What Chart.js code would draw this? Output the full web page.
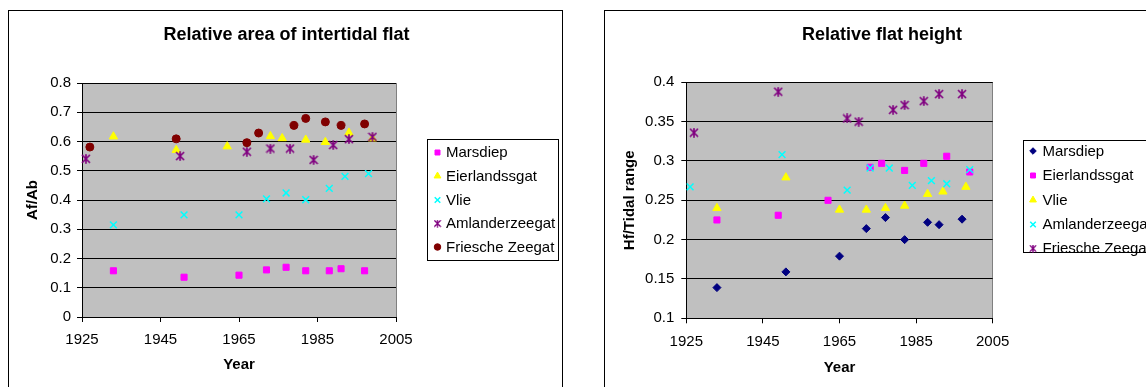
<!DOCTYPE html>
<html>
<head>
<meta charset="utf-8">
<script src="https://cdn.jsdelivr.net/npm/chart.js@4/dist/chart.umd.min.js"></script>
<style>
  html, body { margin: 0; padding: 0; background: #fff; width: 1146px; height: 387px; overflow: hidden; }
  .panel { position: absolute; border: 1px solid #000; box-sizing: border-box; }
  .holder { position: absolute; top: 0; width: 573px; height: 387px; }
  canvas { position: absolute; left: 0; top: 0; }
</style>
</head>
<body>
<div class="panel" style="left:8px; top:10px; width:555px; height:420px;"></div>
<div class="panel" style="left:604px; top:10px; width:620px; height:420px;"></div>
<div class="holder" style="left:0;"><canvas id="areaChart" width="573" height="387"></canvas></div>
<div class="holder" style="left:573px;"><canvas id="heightChart" width="573" height="387"></canvas></div>

<script>
// ---- Tick values ----
const yearTicks = [1925, 1945, 1965, 1985, 2005];
const areaTicks = [0, 0.1, 0.2, 0.3, 0.4, 0.5, 0.6, 0.7, 0.8];
const heightTicks = [0.1, 0.15, 0.2, 0.25, 0.3, 0.35, 0.4];

// ---- Relative area of intertidal flat (Af/Ab) ----
const marsdiepAreaYears = [1933, 1951, 1965, 1972, 1977, 1982, 1988, 1991, 1997];
const marsdiepArea      = [0.158, 0.136, 0.143, 0.161, 0.170, 0.158, 0.158, 0.165, 0.158];
const eierlandAreaYears = [1933, 1949, 1962, 1973, 1976, 1982, 1987, 1993, 1999];
const eierlandArea      = [0.617, 0.571, 0.583, 0.618, 0.611, 0.606, 0.598, 0.630, 0.610];
const vlieAreaYears     = [1933, 1951, 1965, 1972, 1977, 1982, 1988, 1992, 1998];
const vlieArea          = [0.315, 0.349, 0.349, 0.404, 0.424, 0.401, 0.440, 0.481, 0.490];
const amelandAreaYears  = [1926, 1950, 1967, 1973, 1978, 1984, 1989, 1993, 1999];
const amelandArea       = [0.541, 0.550, 0.565, 0.576, 0.576, 0.537, 0.588, 0.608, 0.616];
const friescheAreaYears = [1927, 1949, 1967, 1970, 1979, 1982, 1987, 1991, 1997];
const friescheArea      = [0.581, 0.609, 0.596, 0.629, 0.655, 0.679, 0.667, 0.655, 0.660];

// ---- Relative flat height (Hf/Tidal range) ----
const marsdiepHeightYears = [1933, 1951, 1965, 1972, 1977, 1982, 1988, 1991, 1997];
const marsdiepHeight      = [0.139, 0.159, 0.179, 0.214, 0.228, 0.200, 0.222, 0.219, 0.226];
const eierlandHeightYears = [1933, 1949, 1962, 1973, 1976, 1982, 1987, 1993, 1999];
const eierlandHeight      = [0.225, 0.231, 0.250, 0.292, 0.297, 0.288, 0.297, 0.306, 0.286];
const vlieHeightYears     = [1933, 1951, 1965, 1972, 1977, 1982, 1988, 1992, 1998];
const vlieHeight          = [0.240, 0.279, 0.238, 0.238, 0.240, 0.243, 0.258, 0.261, 0.267];
const amelandHeightYears  = [1926, 1950, 1967, 1973, 1978, 1984, 1989, 1993, 1999];
const amelandHeight       = [0.267, 0.308, 0.263, 0.291, 0.291, 0.269, 0.275, 0.271, 0.289];
const friescheHeightYears = [1927, 1949, 1967, 1970, 1979, 1982, 1987, 1991, 1997];
const friescheHeight      = [0.336, 0.388, 0.354, 0.350, 0.365, 0.371, 0.376, 0.385, 0.385];

Chart.defaults.font.family = "'Liberation Sans', Arial, sans-serif";
Chart.defaults.color = '#000';

// Six-armed star marker (X with a vertical bar)
function starMarker(color, size, lw) {
  const c = document.createElement('canvas');
  c.width = size; c.height = size;
  const g = c.getContext('2d');
  g.strokeStyle = color; g.lineWidth = lw;
  const m = size / 2, a = size / 2 - 1;
  g.beginPath();
  g.moveTo(m - a, m - a); g.lineTo(m + a, m + a);
  g.moveTo(m + a, m - a); g.lineTo(m - a, m + a);
  g.moveTo(m, 0.3); g.lineTo(m, size - 0.3);
  g.stroke();
  return c;
}

const styles = {
  square:   (color) => ({ pointStyle: 'rect', pointRadius: 4.3, backgroundColor: color, borderColor: color, borderWidth: 1 }),
  triangle: (color) => ({ pointStyle: 'triangle', pointRadius: 4.8, backgroundColor: color, borderColor: color, borderWidth: 1 }),
  cross:    (color) => ({ pointStyle: 'crossRot', pointRadius: 4.8, backgroundColor: color, borderColor: color, borderWidth: 1.5 }),
  circle:   (color) => ({ pointStyle: 'circle', pointRadius: 4, backgroundColor: color, borderColor: color, borderWidth: 1 }),
  diamond:  (color) => ({ pointStyle: 'rectRot', pointRadius: 4, backgroundColor: color, borderColor: color, borderWidth: 1 }),
  star:     (color) => ({ pointStyle: starMarker(color, 10, 1.7), pointRadius: 5, backgroundColor: color, borderColor: color, borderWidth: 1.5 })
};

function series(label, years, values, style, order) {
  return Object.assign({
    label,
    data: years.map((x, i) => ({ x, y: values[i] })),
    showLine: false,
    clip: false,
    order
  }, style);
}

// Plot background, chart title and boxed legend
const panelDecor = {
  id: 'panelDecor',
  beforeDraw(chart) {
    const { ctx, chartArea: a } = chart;
    ctx.save();
    ctx.fillStyle = '#C0C0C0';
    ctx.fillRect(a.left, a.top, a.right - a.left, a.bottom - a.top);
    ctx.strokeStyle = '#808080';
    ctx.lineWidth = 1;
    ctx.strokeRect(Math.round(a.left) + 0.5, Math.round(a.top) + 0.5,
                   Math.round(a.right - a.left), Math.round(a.bottom - a.top));
    ctx.restore();
  },
  afterDraw(chart, args, opts) {
    const ctx = chart.ctx;
    ctx.save();
    // title
    ctx.font = "bold 18px 'Liberation Sans', Arial, sans-serif";
    ctx.fillStyle = '#000';
    ctx.textAlign = 'center';
    ctx.textBaseline = 'middle';
    ctx.fillText(opts.title, opts.titleX, opts.titleY);
    // legend frame
    const b = opts.legendBox;
    ctx.strokeStyle = '#000';
    ctx.lineWidth = 1;
    ctx.strokeRect(b[0] + 0.5, b[1] + 0.5, b[2] - b[0], b[3] - b[1]);
    // legend entries
    ctx.font = "15px 'Liberation Sans', Arial, sans-serif";
    ctx.textAlign = 'left';
    chart.data.datasets.forEach((ds, i) => {
      const y = opts.rows[i];
      ctx.fillStyle = ds.backgroundColor;
      ctx.strokeStyle = ds.borderColor;
      ctx.lineWidth = ds.borderWidth;
      if (ds.pointStyle instanceof HTMLCanvasElement) {
        const s = ds.pointStyle.width * 0.8;
        ctx.drawImage(ds.pointStyle, opts.markerX - s / 2, y - s / 2, s, s);
      } else {
        Chart.helpers.drawPoint(ctx, {
          pointStyle: ds.pointStyle, radius: ds.pointRadius * 0.82,
          rotation: 0, borderWidth: ds.borderWidth
        }, opts.markerX, y);
      }
      ctx.fillStyle = '#000';
      ctx.fillText(ds.label, opts.textX, y + 0.5);
    });
    ctx.restore();
  }
};

function fmt(v) { return String(Number(v.toFixed(2))); }

function buildOptions(o) {
  return {
    responsive: false,
    animation: false,
    events: [],
    layout: { padding: o.padding },
    plugins: {
      legend: { display: false },
      tooltip: { enabled: false },
      panelDecor: o.decor
    },
    scales: {
      x: {
        type: 'linear',
        min: yearTicks[0], max: yearTicks[yearTicks.length - 1],
        afterBuildTicks: s => { s.ticks = yearTicks.map(v => ({ value: v })); },
        afterFit: s => { s.height = o.xHeight; },
        ticks: { callback: v => String(v), font: { size: 15 }, color: '#000', padding: o.xPad, maxRotation: 0, autoSkip: false },
        grid: { drawOnChartArea: false, drawTicks: true, tickLength: 5, color: '#000' },
        border: { display: true, color: '#000', width: 1 },
        title: { display: true, text: 'Year', font: { size: 15, weight: 'bold' }, color: '#000', padding: { top: 0, bottom: 0 } }
      },
      y: {
        type: 'linear',
        min: o.yTicks[0], max: o.yTicks[o.yTicks.length - 1],
        afterBuildTicks: s => { s.ticks = o.yTicks.map(v => ({ value: v })); },
        afterFit: s => { s.width = o.yWidth; },
        ticks: { callback: v => fmt(v), font: { size: 15 }, color: '#000', padding: o.yPad, autoSkip: false },
        grid: { drawOnChartArea: true, drawTicks: true, tickLength: 5, color: '#000', lineWidth: 1 },
        border: { display: true, color: '#000', width: 1 },
        title: { display: true, text: o.yTitle, font: { size: 15, weight: 'bold' }, color: '#000', padding: { top: 0, bottom: 0 } }
      }
    }
  };
}

new Chart(document.getElementById('areaChart'), {
  type: 'scatter',
  data: {
    datasets: [
      series('Marsdiep', marsdiepAreaYears, marsdiepArea, styles.square('#FF00FF'), 5),
      series('Eierlandssgat', eierlandAreaYears, eierlandArea, styles.triangle('#FFFF00'), 4),
      series('Vlie', vlieAreaYears, vlieArea, styles.cross('#00FFFF'), 3),
      series('Amlanderzeegat', amelandAreaYears, amelandArea, styles.star('#800080'), 2),
      series('Friesche Zeegat', friescheAreaYears, friescheArea, styles.circle('#800000'), 1)
    ]
  },
  options: buildOptions({
    padding: { left: 24, top: 83, right: 177, bottom: 13 },
    xHeight: 57, yWidth: 58, xPad: 8.5, yPad: 6,
    yTicks: areaTicks, yTitle: 'Af/Ab',
    decor: {
      title: 'Relative area of intertidal flat', titleX: 286.5, titleY: 35,
      legendBox: [427, 139, 558, 260],
      rows: [152.5, 176, 200, 223.5, 247],
      markerX: 437.5, textX: 446
    }
  }),
  plugins: [panelDecor]
});

new Chart(document.getElementById('heightChart'), {
  type: 'scatter',
  data: {
    datasets: [
      series('Marsdiep', marsdiepHeightYears, marsdiepHeight, styles.diamond('#000080'), 5),
      series('Eierlandssgat', eierlandHeightYears, eierlandHeight, styles.square('#FF00FF'), 4),
      series('Vlie', vlieHeightYears, vlieHeight, styles.triangle('#FFFF00'), 3),
      series('Amlanderzeegat', amelandHeightYears, amelandHeight, styles.cross('#00FFFF'), 2),
      series('Friesche Zeegat', friescheHeightYears, friescheHeight, styles.star('#800080'), 1)
    ]
  },
  options: buildOptions({
    padding: { left: 48, top: 82.3, right: 153.3, bottom: 10 },
    xHeight: 58.7, yWidth: 65.3, xPad: 9.5, yPad: 7,
    yTicks: heightTicks, yTitle: 'Hf/Tidal range',
    decor: {
      title: 'Relative flat height', titleX: 309, titleY: 35,
      legendBox: [450, 140, 600, 252],
      rows: [151, 175.5, 200, 224.5, 248.5],
      markerX: 460, textX: 469.5
    }
  }),
  plugins: [panelDecor]
});
</script>
</body>
</html>
